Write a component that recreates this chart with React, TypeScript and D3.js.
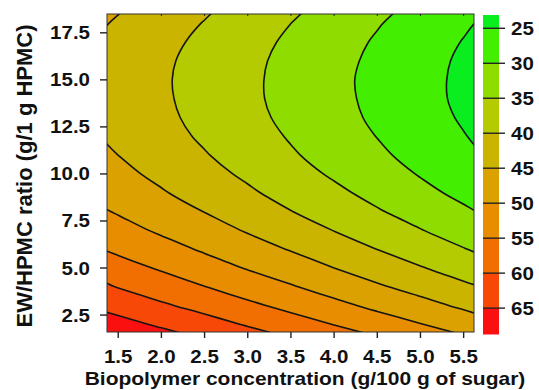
import React from "react";
import * as d3 from "d3";

// response grid
// rows follow gridRatio (EW/HPMC ratio), columns follow gridConc (biopolymer conc.)
const gridConc = [1.0, 1.5, 2.0, 2.5, 3.0, 3.5, 4.0, 4.5, 5.0, 5.5, 6.0];
const gridRatio = [0, 1, 2, 3, 4, 5, 6, 7, 8, 9, 10, 11, 12, 13, 14, 15, 16, 17, 18, 19, 20];
const response = [
  [77.1, 74.7, 72.3, 70.0, 67.6, 65.3, 62.9, 60.5, 58.2, 55.8, 53.5],
  [72.9, 70.5, 68.2, 65.8, 63.5, 61.1, 58.7, 56.4, 54.0, 51.7, 49.3],
  [69.0, 66.7, 64.3, 62.0, 59.6, 57.2, 54.9, 52.5, 50.2, 47.8, 45.4],
  [65.5, 63.1, 60.7, 58.4, 56.0, 53.7, 51.3, 48.9, 46.6, 44.2, 41.9],
  [62.2, 59.8, 57.4, 55.1, 52.7, 50.4, 48.0, 45.6, 43.3, 40.9, 38.6],
  [59.2, 56.8, 54.5, 52.1, 49.7, 47.4, 45.0, 42.7, 40.3, 37.9, 35.6],
  [56.5, 54.1, 51.8, 49.4, 47.0, 44.7, 42.3, 39.95, 37.6, 35.2, 32.9],
  [54.1, 51.7, 49.3, 47.0, 44.6, 42.3, 39.9, 37.5, 35.2, 32.8, 30.5],
  [51.9, 49.6, 47.2, 44.9, 42.5, 40.1, 37.8, 35.4, 33.1, 30.7, 28.3],
  [50.1, 47.8, 45.4, 43.0, 40.7, 38.3, 36.0, 33.6, 31.2, 28.9, 26.5],
  [48.6, 46.2, 43.9, 41.5, 39.2, 36.8, 34.4, 32.1, 29.7, 27.4, 24.99],
  [47.3, 44.99, 42.6, 40.3, 37.9, 35.5, 33.2, 30.8, 28.5, 26.1, 23.7],
  [46.4, 44.0, 41.7, 39.3, 37.0, 34.6, 32.2, 29.9, 27.5, 25.2, 22.8],
  [45.7, 43.4, 41.0, 38.7, 36.3, 33.9, 31.6, 29.2, 26.9, 24.5, 22.1],
  [45.4, 43.0, 40.7, 38.3, 35.9, 33.6, 31.2, 28.9, 26.5, 24.1, 21.8],
  [45.3, 42.9, 40.6, 38.2, 35.9, 33.5, 31.1, 28.8, 26.4, 24.1, 21.7],
  [45.5, 43.2, 40.8, 38.4, 36.1, 33.7, 31.4, 29.0, 26.6, 24.3, 21.9],
  [46.0, 43.7, 41.3, 38.96, 36.6, 34.2, 31.9, 29.5, 27.2, 24.8, 22.4],
  [46.8, 44.5, 42.1, 39.8, 37.4, 35.0, 32.7, 30.3, 28.0, 25.6, 23.2],
  [47.9, 45.6, 43.2, 40.9, 38.5, 36.1, 33.8, 31.4, 29.1, 26.7, 24.3],
  [49.3, 47.0, 44.6, 42.2, 39.9, 37.5, 35.2, 32.8, 30.4, 28.1, 25.7],
];

const xTicks = [1.5, 2.0, 2.5, 3.0, 3.5, 4.0, 4.5, 5.0, 5.5];
const yTicks = [2.5, 5.0, 7.5, 10.0, 12.5, 15.0, 17.5];
const levels = [25, 30, 35, 40, 45, 50, 55, 60, 65];
const legendRange = [23.1, 68.7];
const bandColors = [
  "#0aee20", "#44ee00", "#8fdc00", "#b3cb00", "#cbb400",
  "#dba100", "#e88c00", "#f16f00", "#f74808", "#fb1010",
];

const W = 539;
const H = 390;
const plot = { left: 107, right: 474, top: 14, bottom: 332 };
const bar = { left: 483, right: 499 };
const font = "'Liberation Sans', Arial, Helvetica, sans-serif";

// the source text is a little flattened vertically
function Label({ x, y, anchor = "start", size = 20.5, children }: any) {
  return (
    <text
      transform={`translate(${x},${y}) scale(1,0.89)`}
      textAnchor={anchor}
      fontFamily={font}
      fontWeight="bold"
      fontSize={size}
      fill="#111"
    >
      {children}
    </text>
  );
}

export default function App() {
  const x = d3.scaleLinear().domain([1.37, 5.62]).range([plot.left, plot.right]);
  const y = d3.scaleLinear().domain([1.6, 18.5]).range([plot.bottom, plot.top]);
  const c = d3.scaleLinear().domain(legendRange).range([plot.top + 1, plot.bottom + 2]);

  const nx = gridConc.length;
  const ny = gridRatio.length;
  // d3.contours puts grid value i at i + 0.5
  const gx = d3.scaleLinear().domain([0.5, nx - 0.5]).range([x(gridConc[0]), x(gridConc[nx - 1])]);
  const gy = d3.scaleLinear().domain([0.5, ny - 0.5]).range([y(gridRatio[0]), y(gridRatio[ny - 1])]);

  const contours = d3.contours().size([nx, ny]).thresholds(levels)(response.flat());
  const ring = d3
    .line<number[]>()
    .x((p) => gx(p[0]))
    .y((p) => gy(p[1]))
    .curve(d3.curveCatmullRomClosed);
  const toPath = (geom: any) =>
    geom.coordinates.map((poly: number[][][]) => poly.map((r) => ring(r.slice(0, -1))).join("")).join("");

  const bandEdges = [legendRange[0], ...levels, legendRange[1]];

  return (
    <svg width={W} height={H} style={{ position: "absolute", left: 0, top: 0, background: "#fff" }}>
      <defs>
        <clipPath id="plotClip">
          <rect x={plot.left} y={plot.top} width={plot.right - plot.left} height={plot.bottom - plot.top} />
        </clipPath>
      </defs>

      <g clipPath="url(#plotClip)">
        <rect x={plot.left} y={plot.top} width={plot.right - plot.left} height={plot.bottom - plot.top} fill={bandColors[0]} />
        {contours.map((g, i) => (
          <path key={"f" + i} d={toPath(g)} fill={bandColors[i + 1]} fillRule="evenodd" />
        ))}
        {contours.map((g, i) => (
          <path key={"l" + i} d={toPath(g)} fill="none" stroke="#151515" strokeWidth={1.6} />
        ))}
      </g>
      <rect x={plot.left} y={plot.top} width={plot.right - plot.left} height={plot.bottom - plot.top} fill="none" stroke="#333" strokeWidth={1} />

      {/* x axis */}
      {xTicks.map((t) => (
        <g key={"x" + t}>
          <line x1={x(t)} x2={x(t)} y1={plot.bottom} y2={plot.bottom + 6} stroke="#222" strokeWidth={1.4} />
          <line x1={x(t)} x2={x(t)} y1={plot.top} y2={plot.top + 2} stroke="#222" strokeWidth={1} />
          <Label x={x(t)} y={363} anchor="middle">{t.toFixed(1)}</Label>
        </g>
      ))}
      {/* y axis */}
      {yTicks.map((t) => (
        <g key={"y" + t}>
          <line x1={plot.left - 7} x2={plot.left} y1={y(t)} y2={y(t)} stroke="#222" strokeWidth={1.4} />
          <Label x={90} y={y(t) + 6.5} anchor="end">{t.toFixed(1)}</Label>
        </g>
      ))}

      <Label x={305} y={385} anchor="middle" size={21}>
        Biopolymer concentration (g/100 g of sugar)
      </Label>
      <text transform={`translate(32,176) rotate(-90)`} textAnchor="middle" fontFamily={font} fontWeight="bold" fontSize={22} fill="#111">
        EW/HPMC ratio (g/1 g HPMC)
      </text>

      {/* colour key */}
      {bandColors.map((col, i) => (
        <rect key={"b" + i} x={bar.left} width={bar.right - bar.left} y={c(bandEdges[i])} height={c(bandEdges[i + 1]) - c(bandEdges[i]) + 0.5} fill={col} />
      ))}
      {levels.map((v) => (
        <g key={"k" + v}>
          <line x1={bar.left} x2={bar.right + 6} y1={c(v)} y2={c(v)} stroke="#222" strokeWidth={1.4} />
          <Label x={511} y={c(v) + 6.5}>{v}</Label>
        </g>
      ))}
    </svg>
  );
}
